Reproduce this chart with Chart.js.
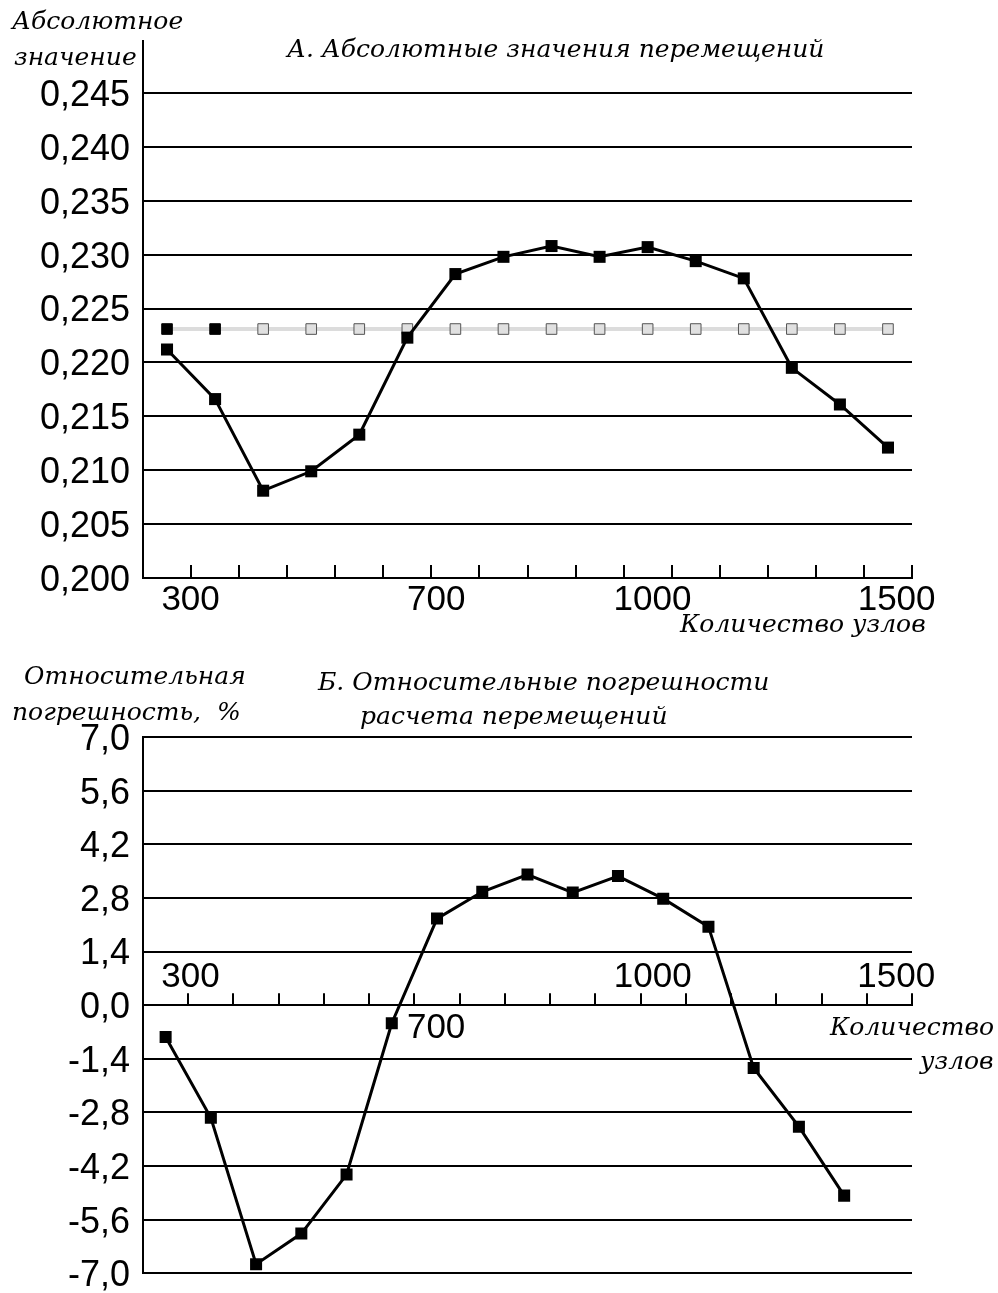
<!DOCTYPE html>
<html>
<head>
<meta charset="utf-8">
<script src="https://cdn.jsdelivr.net/npm/chart.js@4.4.1/dist/chart.umd.min.js"></script>
<style>
  html, body { margin: 0; background: #fff; overflow: hidden; }
  .wrap { position: relative; width: 998px; height: 1293px; overflow: hidden; }
  canvas { position: absolute; left: 0; }
</style>
</head>
<body>
<div class="wrap">
  <canvas id="chartA" width="998" height="645" style="top:0"></canvas>
  <canvas id="chartB" width="998" height="663" style="top:645px"></canvas>
</div>
<script>
// node slots along the x axis (one point in the middle of each tick interval)
const slots = [0.5, 1.5, 2.5, 3.5, 4.5, 5.5, 6.5, 7.5, 8.5, 9.5, 10.5, 11.5, 12.5, 13.5, 14.5, 15.5];

// A. absolute displacement values
const absValues = [0.2212, 0.2166, 0.2081, 0.2099, 0.2133, 0.2223, 0.2282, 0.2298,
                   0.2308, 0.2298, 0.2307, 0.2294, 0.2278, 0.2195, 0.2161, 0.2121];
// reference (exact) value, gray line
const refValues = [0.2231, 0.2231, 0.2231, 0.2231, 0.2231, 0.2231, 0.2231, 0.2231,
                   0.2231, 0.2231, 0.2231, 0.2231, 0.2231, 0.2231, 0.2231, 0.2231];

// Б. relative errors, %
const errValues = [-0.83, -2.94, -6.76, -5.96, -4.42, -0.47, 2.26, 2.96,
                   3.41, 2.94, 3.37, 2.78, 2.05, -1.64, -3.17, -4.97];

// x tick labels (node count) and where they sit on the slot axis
const xLabelsA = ["300", "700", "1000", "1500"];
const xLabelAtA = [0.99, 6.1, 10.6, 15.68];
const xLabelsB = ["300", "700", "1000", "1500"];
const xLabelAtB = [1.05, 6.48, 11.27, 16.65];

const numFont = '"Liberation Sans", Arial, sans-serif';
const serifFont = '"DejaVu Serif", serif';

//Plugin: short up ticks, axis labels and free text
const axisDecor = {
  id: "axisDecor",
  afterDraw(chart, args, opts) {
    const { ctx, chartArea } = chart;
    const x = chart.scales.x;
    const y = chart.scales.y;
    const base = y.getPixelForValue(opts.baseValue);
    ctx.save();
    ctx.strokeStyle = "#000";
    ctx.lineWidth = 2;
    for (let k = 1; k <= x.max; k++) {
      const px = Math.round(x.getPixelForValue(k));
      ctx.beginPath();
      ctx.moveTo(px, base);
      ctx.lineTo(px, base - opts.tickLen);
      ctx.stroke();
    }
    if (opts.axisExtra) {
      ctx.beginPath();
      ctx.moveTo(chartArea.left, chartArea.top);
      ctx.lineTo(chartArea.left, chartArea.top - opts.axisExtra);
      ctx.stroke();
    }
    ctx.fillStyle = "#000";
    ctx.font = "35px " + numFont;
    ctx.textAlign = "center";
    ctx.textBaseline = "middle";
    opts.labels.forEach((t, i) => {
      ctx.fillText(t, x.getPixelForValue(opts.labelAt[i]), base + opts.labelDy[i]);
    });
    ctx.font = "italic 25px " + serifFont;
    ctx.textAlign = "left";
    opts.texts.forEach(([t, px, py]) => ctx.fillText(t, px, py));
    ctx.restore();
  },
};

const lineStyle = {
  borderColor: "#000",
  borderWidth: 3,
  backgroundColor: "#000",
  pointStyle: "rect",
  pointRadius: 8.5,
  pointBorderWidth: 0,
  tension: 0,
};

function yScale(min, max, step, digits) {
  return {
    min: min,
    max: max,
    afterFit: (scale) => { scale.width = 143; },
    ticks: {
      stepSize: step,
      padding: 13,
      labelOffset: 3,
      color: "#000",
      font: { family: numFont, size: 36 },
      callback: (v) => (Math.abs(v) < 1e-9 ? 0 : v).toFixed(digits).replace(".", ","),
    },
    grid: { color: "#000", lineWidth: 2, drawTicks: false },
    border: { display: true, color: "#000", width: 2 },
  };
}

// A chart
new Chart(document.getElementById("chartA").getContext("2d"), {
  type: "line",
  data: {
    datasets: [
      Object.assign({}, lineStyle, {
        label: "Расчет",
        data: slots.map((s, i) => ({ x: s, y: absValues[i] })),
        order: 0,
      }),
      {
        label: "Точное",
        data: slots.map((s, i) => ({ x: s, y: refValues[i] })),
        borderColor: "#dcdcdc",
        borderWidth: 4,
        pointStyle: "rect",
        pointRadius: 7.5,
        pointBorderWidth: 1,
        pointBackgroundColor: refValues.map((v, i) => (i < 2 ? "#000" : "#e0e0e0")),
        pointBorderColor: refValues.map((v, i) => (i < 2 ? "#000" : "#555")),
        order: 1,
      },
    ],
  },
  options: {
    responsive: false,
    animation: false,
    layout: { padding: { top: 93, right: 86, bottom: 67, left: 0 } },
    scales: {
      x: {
        type: "linear",
        min: 0,
        max: 16,
        afterFit: (scale) => { scale.height = 0; },
        ticks: { display: false },
        grid: { display: false },
        border: { display: true, color: "#000", width: 2 },
      },
      y: yScale(0.2, 0.245, 0.005, 3),
    },
    plugins: {
      legend: { display: false },
      tooltip: { enabled: false },
      axisDecor: {
        baseValue: 0.2,
        tickLen: 13,
        axisExtra: 53,
        labels: xLabelsA,
        labelAt: xLabelAtA,
        labelDy: [22, 22, 22, 22],
        texts: [
          ["Абсолютное", 12, 22],
          ["значение", 14, 58],
          ["А. Абсолютные значения перемещений", 287, 50],
          ["Количество узлов", 680, 625],
        ],
      },
    },
  },
  plugins: [axisDecor],
});

// Б chart
new Chart(document.getElementById("chartB").getContext("2d"), {
  type: "line",
  data: {
    datasets: [
      Object.assign({}, lineStyle, {
        label: "Погрешность",
        data: slots.map((s, i) => ({ x: s, y: errValues[i] })),
      }),
    ],
  },
  options: {
    responsive: false,
    animation: false,
    layout: { padding: { top: 92, right: 86, bottom: 34, left: 0 } },
    scales: {
      x: {
        type: "linear",
        min: 0,
        max: 17,
        position: { y: 0 },
        afterFit: (scale) => { scale.height = 0; },
        ticks: { display: false },
        grid: { display: false },
        border: { display: true, color: "#000", width: 2 },
      },
      y: yScale(-7, 7, 1.4, 1),
    },
    plugins: {
      legend: { display: false },
      tooltip: { enabled: false },
      axisDecor: {
        baseValue: 0,
        tickLen: 12,
        axisExtra: 0,
        labels: xLabelsB,
        labelAt: xLabelAtB,
        labelDy: [-28, 23, -28, -28],
        texts: [
          ["Относительная", 24, 32],
          ["погрешность,  %", 12, 68],
          ["Б. Относительные погрешности", 318, 38],
          ["расчета перемещений", 360, 72],
          ["Количество", 830, 383],
          ["узлов", 920, 417],
        ],
      },
    },
  },
  plugins: [axisDecor],
});
</script>
</body>
</html>
